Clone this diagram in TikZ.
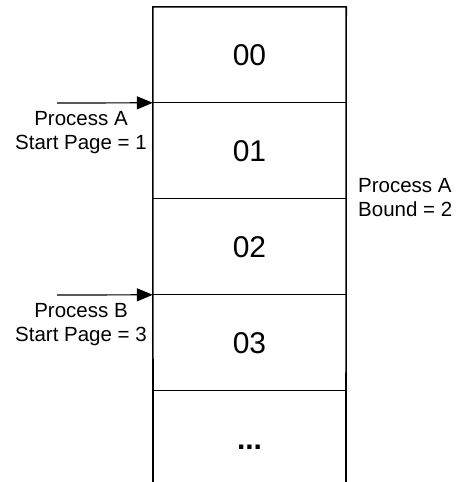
\documentclass[tikz,border=0pt]{standalone}
\usepackage{fontspec}
\setmainfont{Liberation Sans}
\usetikzlibrary{arrows.meta}
\begin{document}
\begin{tikzpicture}[x=1pt,y=-1pt,
  cell/.style={minimum width=193pt,minimum height=96pt,inner sep=0pt,font=\fontsize{30}{30}\selectfont},
  lbl/.style={inner sep=0pt,font=\fontsize{20.5}{24}\selectfont},
  ptr/.style={line width=1.2pt,-{Triangle[length=16pt,width=13pt]}},
  wall/.style={line width=1.6pt},
  sep/.style={line width=1.2pt}]
\useasboundingbox (0,0) rectangle (457,482);
\node[cell] (c00) at (249.5,55) {00};
\node[cell] (c01) at (249.5,151) {01};
\node[cell] (c02) at (249.5,247) {02};
\node[cell] (c03) at (249.5,343) {03};
\node[cell,minimum height=112pt] (c04) at (249.5,447) {\textbf{...}};
% walls
\draw[wall] (153,482) -- (c00.north west) -- (c00.north east) -- (346,482);
\draw[sep] (c01.north west) -- (c01.north east);
\draw[sep] (c02.north west) -- (c02.north east);
\draw[sep] (c03.north west) -- (c03.north east);
\draw[sep] (c04.north west) -- (c04.north east);
% pointers
\coordinate (pa) at (57,103);
\coordinate (pb) at (57,295);
\draw[ptr] (pa) -- (c01.north west);
\draw[ptr] (pb) -- (c03.north west);
\node[lbl,align=center,anchor=north] (la) at (81,111) {Process A\\Start Page = 1};
\node[lbl,align=center,anchor=north] (lb) at (81,303) {Process B\\Start Page = 3};
\node[lbl,align=left,anchor=north west] (lr) at (358,178) {Process A\\Bound = 2};
\end{tikzpicture}
\end{document}
